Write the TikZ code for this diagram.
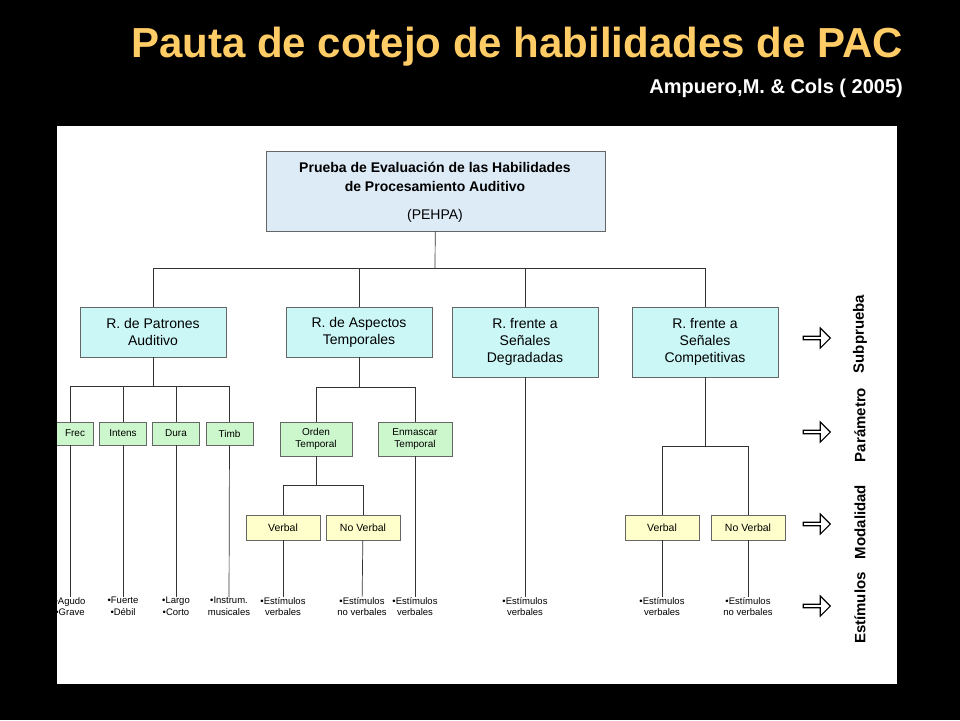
\documentclass[tikz,border=0pt]{standalone}
\usepackage{fontspec}
\setmainfont{Liberation Sans}
\usetikzlibrary{shapes.arrows, positioning}
\definecolor{titleorange}{HTML}{FFCC66}
\definecolor{topblue}{HTML}{DDEBF7}
\definecolor{subcyan}{HTML}{CCF7F7}
\definecolor{paramgreen}{HTML}{CCF7CC}
\definecolor{modyellow}{HTML}{FFFFCC}
\begin{document}
\begin{tikzpicture}[
			x=1pt, y=-1pt,
			nodes = {
				align = center,
				inner sep = 0pt
			},
			box/.style={
				draw=black!60,
				rectangle,
				line width=0.6pt
			},
			subbox/.style={
				box,
				fill=subcyan,
				minimum width=146pt,
				font=\fontsize{14}{17}\selectfont
			},
			parambox/.style={
				box,
				fill=paramgreen,
				font=\fontsize{10}{12}\selectfont
			},
			modbox/.style={
				box,
				fill=modyellow,
				minimum width=74pt,
				minimum height=25pt,
				font=\fontsize{10.5}{12}\selectfont
			},
			stim/.style={
				anchor=north,
				font=\fontsize{9.5}{11.5}\selectfont
			},
			lines/.style={
				line width=0.7pt,
				draw=black!80
			},
			hint/.style={
				single arrow,
				draw=black,
				line width=1.2pt,
				fill=white,
				minimum width=20pt,
				minimum height=27pt,
				single arrow head extend=3pt
			},
			level/.style={
				rotate=90,
				font=\bfseries\fontsize{15}{17}\selectfont
			}
		]
			\useasboundingbox (0,0) rectangle (960,720);
			\fill[black] (0,0) rectangle (960,720);
			\fill[white] (57,126) rectangle (897,684);

			\node[anchor=east, text=titleorange, font=\bfseries\fontsize{42}{46}\selectfont]
				(title) at (903,47) {Pauta de cotejo de habilidades de PAC};
			\node[anchor=east, text=white, font=\bfseries\fontsize{20}{22}\selectfont]
				(cite) at (903,88) {Ampuero,M. \& Cols ( 2005)};

			\begin{scope}
			\clip (57,126) rectangle (897,684);

			\node[box, fill=topblue, minimum width=339pt, minimum height=80pt]
				(pehpa) at (435.5,191) {};
			\node[font=\bfseries\fontsize{14}{19}\selectfont] (pehpat) at (435,177)
				{Prueba de Evaluación de las Habilidades\\de Procesamiento Auditivo};
			\node[font=\fontsize{14}{16}\selectfont] (pehpas) at (435,216) {(PEHPA)};

			% subpruebas
			\node[subbox, minimum height=50pt] (pat) at (153,332) {R. de Patrones\\Auditivo};
			\node[subbox, minimum height=50pt] (asp) at (359,332) {R. de Aspectos\\Temporales};
			\node[subbox, minimum height=70pt] (deg) at (525,342) {R. frente a\\Señales\\Degradadas};
			\node[subbox, minimum height=70pt] (comp) at (705,342) {R. frente a\\Señales\\Competitivas};

			% parametros
			\node[parambox, minimum width=46pt, minimum height=23pt] (frec) at (70,433.5) {\quad Frec};
			\node[parambox, minimum width=47pt, minimum height=23pt] (inten) at (123,433.5) {Intens};
			\node[parambox, minimum width=47pt, minimum height=23pt] (dura) at (176,433.5) {Dura};
			\node[parambox, minimum width=47pt, minimum height=23pt] (timb) at (229.5,433.5) {Timb};
			\node[parambox, minimum width=72pt, minimum height=34pt] (orden) at (316,439) {Orden\\Temporal};
			\node[parambox, minimum width=74pt, minimum height=34pt] (enm) at (415,439) {Enmascar\\Temporal};

			% modalidades
			\node[modbox] (verb1) at (283,527.5) {Verbal};
			\node[modbox] (nverb1) at (363,527.5) {No Verbal};
			\node[modbox] (verb2) at (662,527.5) {Verbal};
			\node[modbox] (nverb2) at (748,527.5) {No Verbal};

			% estimulos
			\node[stim] (s1) at (70,597) {•Agudo\\•Grave};
			\node[stim] (s2) at (123,597) {•Fuerte\\•Débil};
			\node[stim] (s3) at (176,597) {•Largo\\•Corto};
			\node[stim] (s4) at (229,597) {•Instrum.\\musicales};
			\node[stim] (s5) at (283,597) {•Estímulos\\verbales};
			\node[stim] (s6) at (362,597) {•Estímulos\\no verbales};
			\node[stim] (s7) at (415,597) {•Estímulos\\verbales};
			\node[stim] (s8) at (525,597) {•Estímulos\\verbales};
			\node[stim] (s9) at (662,597) {•Estímulos\\verbales};
			\node[stim] (s10) at (748,597) {•Estímulos\\no verbales};

			\coordinate (j0) at (435,268);
			\coordinate (j1) at (153,386);
			\coordinate (j2) at (359,387);
			\coordinate (j3) at (316,485);
			\coordinate (j4) at (705,446);

			\draw[lines] (pehpa) -- (j0);
			\draw[lines] (pat.north |- j0) -- (comp.north |- j0);
			\foreach \n in {pat, asp, deg, comp}
				\draw[lines] (\n.north |- j0) -- (\n.north);

			\draw[lines] (pat) -- (j1);
			\draw[lines] (frec.north |- j1) -- (timb.north |- j1);
			\foreach \n in {frec, inten, dura, timb}
				\draw[lines] (\n.north |- j1) -- (\n.north);

			\draw[lines] (asp) -- (j2);
			\draw[lines] (orden.north |- j2) -- (enm.north |- j2);
			\foreach \n in {orden, enm}
				\draw[lines] (\n.north |- j2) -- (\n.north);

			\draw[lines] (orden) -- (j3);
			\draw[lines] (verb1.north |- j3) -- (nverb1.north |- j3);
			\foreach \n in {verb1, nverb1}
				\draw[lines] (\n.north |- j3) -- (\n.north);

			\draw[lines] (comp) -- (j4);
			\draw[lines] (verb2.north |- j4) -- (nverb2.north |- j4);
			\foreach \n in {verb2, nverb2}
				\draw[lines] (\n.north |- j4) -- (\n.north);

			\draw[lines] (frec) -- (s1);
			\draw[lines] (inten) -- (s2);
			\draw[lines] (dura) -- (s3);
			\draw[lines] (timb) -- (s4);
			\draw[lines] (verb1) -- (s5);
			\draw[lines] (nverb1) -- (s6);
			\draw[lines] (enm) -- (s7);
			\draw[lines] (deg) -- (s8);
			\draw[lines] (verb2) -- (s9);
			\draw[lines] (nverb2) -- (s10);

			% niveles
			\node[hint] (a1) at (816,338) {};
			\node[hint] (a2) at (816,432) {};
			\node[hint] (a3) at (816,524) {};
			\node[hint] (a4) at (816,606) {};
			\node[level] (l1) at (860,334) {Subprueba};
			\node[level] (l2) at (860,425) {Parámetro};
			\node[level] (l3) at (860,522) {Modalidad};
			\node[level] (l4) at (860,608) {Estímulos};
			\end{scope}
		\end{tikzpicture}
\end{document}
